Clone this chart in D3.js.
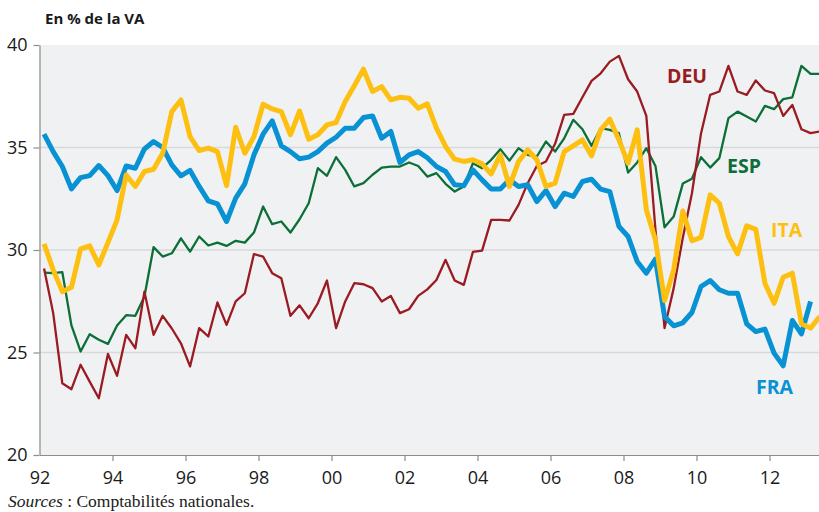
<!DOCTYPE html>
<html>
<head>
<meta charset="utf-8">
<script src="https://cdn.jsdelivr.net/npm/d3@7"></script>
<style>
  body { margin: 0; background: #fff; }
  svg { display: block; }
</style>
</head>
<body>
<script>
// quarterly series, starting 1992 Q1
var startYear = 1992;
var yTicks = [20, 25, 30, 35, 40];
var xTicks = [1992, 1994, 1996, 1998, 2000, 2002, 2004, 2006, 2008, 2010, 2012];

var fra = [35.65, 34.80, 34.07, 32.98, 33.53, 33.63, 34.12, 33.63, 32.90, 34.10,
           33.99, 34.93, 35.29, 35.00, 34.15, 33.62, 33.88, 33.10, 32.40, 32.25,
           31.39, 32.53, 33.23, 34.64, 35.65, 36.30, 35.08, 34.80, 34.45, 34.53,
           34.80, 35.21, 35.50, 35.94, 35.94, 36.46, 36.54, 35.45, 35.78, 34.27,
           34.64, 34.80, 34.50, 34.07, 33.83, 33.18, 33.14, 33.91, 33.42, 32.98,
           32.98, 33.42, 33.10, 33.18, 32.36, 32.90, 32.12, 32.77, 32.61, 33.34,
           33.45, 32.97, 32.85, 31.15, 30.66, 29.44, 28.87, 29.55, 26.75, 26.30,
           26.45, 26.95, 28.22, 28.51, 28.06, 27.89, 27.89, 26.40, 26.02, 26.14,
           24.97, 24.35, 26.56, 25.91, 27.49];

var ita = [30.30, 29.03, 27.97, 28.18, 30.05, 30.20, 29.27, 30.36, 31.47, 33.66,
           33.10, 33.83, 33.94, 34.72, 36.75, 37.32, 35.53, 34.85, 34.97, 34.80,
           33.14, 35.99, 34.72, 35.53, 37.11, 36.88, 36.75, 35.62, 36.78, 35.40,
           35.62, 36.10, 36.22, 37.24, 38.01, 38.82, 37.73, 37.97, 37.32, 37.45,
           37.40, 36.92, 37.13, 35.94, 35.05, 34.43, 34.32, 34.40, 34.20, 33.71,
           34.64, 33.10, 34.32, 34.88, 34.40, 33.10, 33.26, 34.80, 35.08, 35.37,
           34.59, 35.86, 36.38, 35.37, 34.23, 35.86, 31.96, 30.49, 27.53, 29.03,
           31.90, 30.45, 30.62, 32.69, 32.28, 30.66, 29.81, 31.18, 31.01, 28.38,
           27.40, 28.67, 28.87, 26.40, 26.19, 26.75];

var esp = [28.90, 28.87, 28.92, 26.32, 25.05, 25.89, 25.62, 25.42, 26.32, 26.82,
           26.79, 27.73, 30.14, 29.68, 29.84, 30.57, 29.92, 30.66, 30.22, 30.36,
           30.20, 30.45, 30.36, 30.85, 32.12, 31.26, 31.39, 30.85, 31.50, 32.28,
           33.99, 33.62, 34.53, 33.91, 33.10, 33.26, 33.67, 34.02, 34.07, 34.07,
           34.27, 34.10, 33.58, 33.75, 33.23, 32.85, 33.10, 34.23, 33.99, 34.40,
           34.92, 34.36, 34.97, 34.64, 34.56, 35.29, 34.80, 35.45, 36.35, 35.89,
           35.08, 35.94, 35.86, 35.70, 33.78, 34.27, 34.97, 34.10, 31.11, 31.63,
           33.24, 33.48, 34.53, 34.02, 34.48, 36.43, 36.75, 36.51, 36.27, 37.03,
           36.87, 37.36, 37.45, 38.98, 38.59, 38.59];

var deu = [29.10, 26.92, 23.50, 23.21, 24.40, 23.58, 22.77, 24.93, 23.86, 25.86,
           25.21, 27.97, 25.86, 26.79, 26.17, 25.45, 24.32, 26.19, 25.78, 27.44,
           26.35, 27.49, 27.89, 29.80, 29.68, 28.87, 28.62, 26.79, 27.30, 26.67,
           27.40, 28.51, 26.19, 27.49, 28.38, 28.33, 28.14, 27.49, 27.76, 26.92,
           27.11, 27.76, 28.08, 28.54, 29.52, 28.51, 28.30, 29.91, 29.97, 31.47,
           31.47, 31.44, 32.20, 33.26, 34.10, 34.32, 35.18, 36.59, 36.64, 37.45,
           38.25, 38.62, 39.19, 39.47, 38.33, 37.73, 36.54, 31.00, 26.19, 28.14,
           30.60, 32.77, 35.70, 37.57, 37.73, 38.98, 37.73, 37.57, 38.27, 37.78,
           37.65, 36.54, 37.08, 35.89, 35.70, 35.78];

var series = [
    {name: "ESP", values: esp, color: "#0b6f37", width: 2.3, lx: 727, ly: 173},
    {name: "DEU", values: deu, color: "#9a1b21", width: 2.3, lx: 667, ly: 83},
    {name: "FRA", values: fra, color: "#0892d3", width: 5, lx: 756, ly: 394},
    {name: "ITA", values: ita, color: "#fdc011", width: 5, lx: 771, ly: 237}
];

var width = 819, height = 512;
var plotLeft = 39.5, plotRight = 819, plotTop = 45, plotBottom = 455;

var svg = d3.select("body")
    .append("svg")
    .attr("width", width)
    .attr("height", height);

var xScale = d3.scaleLinear()
    .domain([1992, 1992 + (plotRight - plotLeft) / 36.5])
    .range([plotLeft, plotRight]);

var yScale = d3.scaleLinear()
    .domain([20, 40])
    .range([plotBottom, plotTop]);

// plot background
svg.append("rect")
    .attr("x", plotLeft)
    .attr("y", plotTop)
    .attr("width", plotRight - plotLeft)
    .attr("height", plotBottom - plotTop)
    .attr("fill", "#f0f1f3");

// gridlines
svg.selectAll(".grid")
    .data(yTicks.filter(function(d) { return d > 20 && d < 40; }))
    .enter()
    .append("line")
    .attr("x1", plotLeft)
    .attr("x2", plotRight)
    .attr("y1", function(d) { return yScale(d); })
    .attr("y2", function(d) { return yScale(d); })
    .attr("stroke", "#d8d9db")
    .attr("stroke-width", 1.5);

svg.append("clipPath")
    .attr("id", "plot")
    .append("rect")
    .attr("x", plotLeft)
    .attr("y", plotTop - 10)
    .attr("width", plotRight - plotLeft)
    .attr("height", plotBottom - plotTop + 10);

var line = d3.line()
    .x(function(d, i) { return xScale(startYear + (i + 0.5) / 4); })
    .y(function(d) { return yScale(d); });

svg.append("g")
    .attr("clip-path", "url(#plot)")
    .selectAll("path")
    .data(series)
    .enter()
    .append("path")
    .attr("d", function(d) { return line(d.values); })
    .attr("fill", "none")
    .attr("stroke", function(d) { return d.color; })
    .attr("stroke-width", function(d) { return d.width; })
    .attr("stroke-linejoin", "round");

// axes
var yAxis = d3.axisLeft(yScale)
    .tickValues(yTicks)
    .tickSize(6)
    .tickSizeOuter(0)
    .tickPadding(6);

var xAxis = d3.axisBottom(xScale)
    .tickValues(xTicks)
    .tickSize(6)
    .tickSizeOuter(0)
    .tickPadding(10)
    .tickFormat(function(d) { return String(d % 100).padStart(2, "0"); });

var gy = svg.append("g")
    .attr("transform", "translate(" + plotLeft + ",0)")
    .call(yAxis);

var gx = svg.append("g")
    .attr("transform", "translate(0," + plotBottom + ")")
    .call(xAxis);

[gx, gy].forEach(function(g) {
    g.select(".domain").attr("stroke", "#8c8c8c").attr("stroke-width", 1.2);
    g.selectAll(".tick line").attr("stroke", "#8c8c8c").attr("stroke-width", 1.2);
    g.selectAll(".tick text")
        .attr("fill", "#1a1a1a")
        .style("font-family", "'Open Sans', sans-serif")
        .style("font-size", "18px");
});
gx.selectAll(".tick").filter(function(d) { return d === 1992; }).select("line").remove();

// series labels
svg.selectAll(".lab")
    .data(series)
    .enter()
    .append("text")
    .attr("x", function(d) { return d.lx; })
    .attr("y", function(d) { return d.ly; })
    .text(function(d) { return d.name; })
    .attr("fill", function(d) { return d.color; })
    .style("font-family", "'Open Sans', sans-serif")
    .style("font-weight", "bold")
    .style("font-size", "19.5px");

// title and source
svg.append("text")
    .attr("x", 45)
    .attr("y", 24)
    .text("En % de la VA")
    .attr("fill", "#1a1a1a")
    .style("font-family", "'Open Sans', sans-serif")
    .style("font-weight", "bold")
    .style("font-size", "15px");

var src = svg.append("text")
    .attr("x", 8)
    .attr("y", 507)
    .attr("fill", "#1a1a1a")
    .style("font-family", "'Liberation Serif', serif")
    .style("font-size", "17.5px");
src.append("tspan").style("font-style", "italic").text("Sources");
src.append("tspan").text(" : Comptabilités nationales.");
</script>
</body>
</html>
